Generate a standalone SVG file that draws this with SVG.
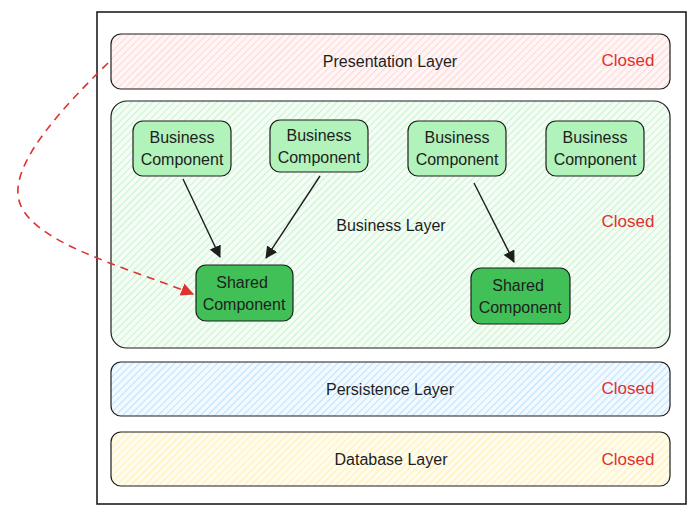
<svg xmlns="http://www.w3.org/2000/svg" width="700" height="516" viewBox="0 0 700 516">
  <style>
    .frame { fill: #ffffff; stroke: #1e1e1e; stroke-width: 1.6; }
    .layer { stroke: #1e1e1e; stroke-width: 1.2; }
    .comp { fill: #b2f2bb; stroke: #1e1e1e; stroke-width: 1.2; }
    .shared { fill: #40c057; stroke: #1e1e1e; stroke-width: 1.2; }
    .label { font-family: "Liberation Sans", Arial, sans-serif; font-size: 16px; fill: #1e1e1e; text-anchor: middle; dominant-baseline: central; }
    .closed { font-family: "Liberation Sans", Arial, sans-serif; font-size: 17px; fill: #e03131; text-anchor: middle; dominant-baseline: central; }
    .ctext { font-family: "Liberation Sans", Arial, sans-serif; font-size: 16px; fill: #1e1e1e; text-anchor: middle; }
    .edge { fill: none; stroke: #1e1e1e; stroke-width: 1.4; }
    .dep { fill: none; stroke: #e03131; stroke-width: 1.6; stroke-dasharray: 8 6; }
  </style>
  <defs>
    <pattern id="hatch-red" width="5" height="5" patternUnits="userSpaceOnUse" patternTransform="rotate(45)">
      <rect width="5" height="5" fill="#fff5f5"/>
      <line x1="0" y1="0" x2="0" y2="5" stroke="#ffc9c9" stroke-width="1.4"/>
    </pattern>
    <pattern id="hatch-green" width="5" height="5" patternUnits="userSpaceOnUse" patternTransform="rotate(45)">
      <rect width="5" height="5" fill="#f4fcf5"/>
      <line x1="0" y1="0" x2="0" y2="5" stroke="#b2f2bb" stroke-width="1.4"/>
    </pattern>
    <pattern id="hatch-blue" width="5" height="5" patternUnits="userSpaceOnUse" patternTransform="rotate(45)">
      <rect width="5" height="5" fill="#f2f9ff"/>
      <line x1="0" y1="0" x2="0" y2="5" stroke="#a5d8ff" stroke-width="1.4"/>
    </pattern>
    <pattern id="hatch-yellow" width="5" height="5" patternUnits="userSpaceOnUse" patternTransform="rotate(45)">
      <rect width="5" height="5" fill="#fffcee"/>
      <line x1="0" y1="0" x2="0" y2="5" stroke="#ffec99" stroke-width="1.4"/>
    </pattern>
    <marker id="arrow-black" viewBox="0 0 12 12" refX="11" refY="6" markerWidth="12" markerHeight="12" markerUnits="userSpaceOnUse" orient="auto">
      <path d="M0,0 L12,6 L0,12 Z" fill="#1e1e1e"/>
    </marker>
    <marker id="arrow-red" viewBox="0 0 12 12" refX="11" refY="6" markerWidth="13" markerHeight="13" markerUnits="userSpaceOnUse" orient="auto">
      <path d="M0,0 L12,6 L0,12 Z" fill="#e03131"/>
    </marker>
  </defs>

  <rect width="700" height="516" fill="#ffffff"/>

  <!-- outer container -->
  <g id="container">
    <rect class="frame" x="97" y="12" width="589" height="492"/>
  </g>

  <!-- layers -->
  <g id="presentation-layer">
    <rect class="layer" x="111" y="34" width="559" height="55" rx="10" fill="url(#hatch-red)"/>
    <text class="label" x="390" y="61">Presentation Layer</text>
    <text class="closed" x="628" y="60">Closed</text>
  </g>
  <g id="business-layer">
    <rect class="layer" x="111" y="101" width="559" height="247" rx="16" fill="url(#hatch-green)"/>
    <text class="label" x="391" y="225">Business Layer</text>
    <text class="closed" x="628" y="221">Closed</text>
  </g>
  <g id="persistence-layer">
    <rect class="layer" x="111" y="362" width="559" height="54" rx="10" fill="url(#hatch-blue)"/>
    <text class="label" x="390" y="389">Persistence Layer</text>
    <text class="closed" x="628" y="388">Closed</text>
  </g>
  <g id="database-layer">
    <rect class="layer" x="111" y="432" width="559" height="54" rx="10" fill="url(#hatch-yellow)"/>
    <text class="label" x="391" y="459">Database Layer</text>
    <text class="closed" x="628" y="459">Closed</text>
  </g>

  <!-- components -->
  <g id="business-component-1">
    <rect class="comp" x="133" y="121" width="98" height="55" rx="10"/>
    <text class="ctext" x="182" y="143">Business</text>
    <text class="ctext" x="182" y="165">Component</text>
  </g>
  <g id="business-component-2">
    <rect class="comp" x="270" y="120" width="98" height="52" rx="10"/>
    <text class="ctext" x="319" y="141">Business</text>
    <text class="ctext" x="319" y="163">Component</text>
  </g>
  <g id="business-component-3">
    <rect class="comp" x="408" y="121" width="98" height="55" rx="10"/>
    <text class="ctext" x="457" y="143">Business</text>
    <text class="ctext" x="457" y="165">Component</text>
  </g>
  <g id="business-component-4">
    <rect class="comp" x="546" y="121" width="98" height="55" rx="10"/>
    <text class="ctext" x="595" y="143">Business</text>
    <text class="ctext" x="595" y="165">Component</text>
  </g>
  <g id="shared-component-1">
    <rect class="shared" x="196" y="265" width="97" height="56" rx="10"/>
    <text class="ctext" x="242" y="288">Shared</text>
    <text class="ctext" x="244" y="310">Component</text>
  </g>
  <g id="shared-component-2">
    <rect class="shared" x="471" y="268" width="99" height="56" rx="10"/>
    <text class="ctext" x="518" y="291">Shared</text>
    <text class="ctext" x="520" y="313">Component</text>
  </g>

  <!-- connectors -->
  <g id="connectors">
    <line class="edge" x1="183" y1="179" x2="220" y2="257" marker-end="url(#arrow-black)"/>
    <line class="edge" x1="320" y1="176" x2="266" y2="258" marker-end="url(#arrow-black)"/>
    <line class="edge" x1="474" y1="183" x2="514" y2="262" marker-end="url(#arrow-black)"/>
    <path class="dep" d="M108,63 C60,110 15,160 18,195 C22,240 120,265 193,294" marker-end="url(#arrow-red)"/>
  </g>
</svg>
